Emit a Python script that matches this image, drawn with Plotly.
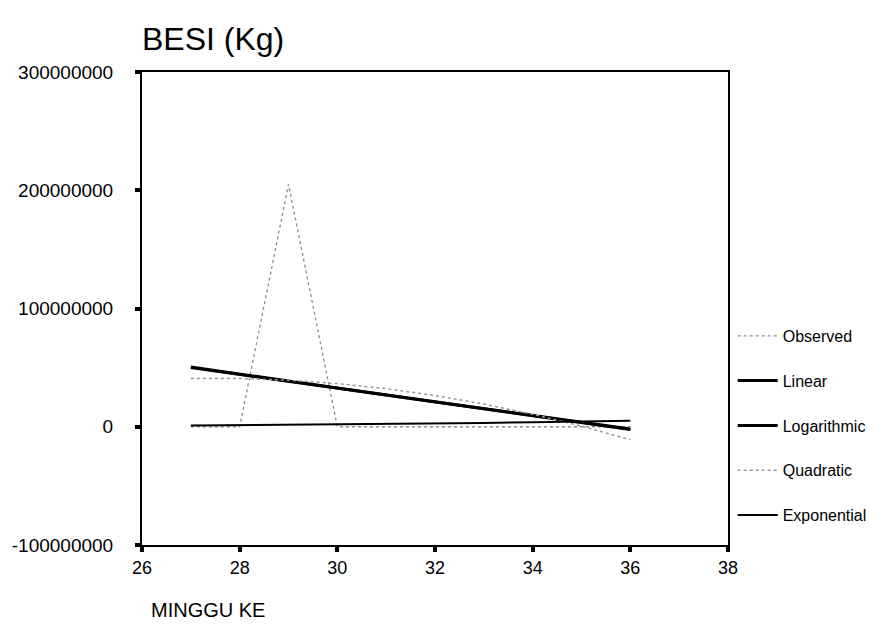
import plotly.graph_objects as go

# ---- data ----
weeks = [27, 28, 29, 30, 31, 32, 33, 34, 35, 36]
observed = [0, 0, 205e6, 0, 0, 0, 0, 0, 0, 0]
linear = [50e6, 44.2e6, 38.4e6, 32.7e6, 26.9e6, 21.1e6, 15.3e6, 9.6e6, 3.8e6, -2e6]
logarithmic = [50.5e6, 44.4e6, 38.5e6, 32.7e6, 26.9e6, 21.1e6, 15.3e6, 9.5e6, 3.7e6, -2.3e6]
quadratic = [40.8e6, 40.8e6, 39.4e6, 36.5e6, 32.2e6, 26.4e6, 19.2e6, 10.6e6, 0.5e6, -11e6]
exponential = [1.0e6, 1.3e6, 1.6e6, 1.9e6, 2.3e6, 2.7e6, 3.2e6, 3.8e6, 4.4e6, 5.0e6]

x_ticks = [26, 28, 30, 32, 34, 36, 38]
y_ticks = [-100000000, 0, 100000000, 200000000, 300000000]

FONT = "Liberation Sans, Arial, sans-serif"

series = [
    ("Observed", observed, dict(color="#8c8c8c", width=1.3, dash="dot")),
    ("Linear", linear, dict(color="black", width=3)),
    ("Logarithmic", logarithmic, dict(color="black", width=3)),
    ("Quadratic", quadratic, dict(color="#9a9a9a", width=1.5, dash="dot")),
    ("Exponential", exponential, dict(color="black", width=2)),
]

fig = go.Figure()
for name, vals, line in series:
    fig.add_trace(go.Scatter(
        x=weeks, y=vals, name=name, mode="lines", line=line,
        legendgroup=name,
    ))

fig.update_layout(
    width=892, height=640,
    paper_bgcolor="white", plot_bgcolor="white",
    margin=dict(l=140, r=164, t=72, b=95),
    font=dict(family=FONT, color="black", size=16),
    title=dict(text="BESI (Kg)", x=0, xref="paper", xanchor="left",
               y=0.94, yref="container", yanchor="middle",
               font=dict(size=32, family=FONT), pad=dict(l=0)),
    showlegend=True,
    legend=dict(x=1.008, xanchor="left", y=0.478, yanchor="top",
                font=dict(size=16, family=FONT), tracegroupgap=21,
                bgcolor="rgba(0,0,0,0)", itemwidth=40),
    annotations=[dict(text="MINGGU KE", xref="paper", yref="paper",
                      x=0.012, y=-0.137, xanchor="left", yanchor="middle",
                      showarrow=False, font=dict(size=20, family=FONT))],
)
fig.update_xaxes(
    range=[26, 38], tickvals=x_ticks, ticktext=[str(v) for v in x_ticks],
    showgrid=False, zeroline=False, showline=True, linecolor="black",
    linewidth=2, mirror=True, ticks="outside", ticklen=5, tickwidth=4,
    tickcolor="black", tickfont=dict(size=18),
)
fig.update_yaxes(
    range=[-100000000, 300000000], tickvals=y_ticks,
    ticktext=[str(v) for v in y_ticks],
    showgrid=False, zeroline=False, showline=True, linecolor="black",
    linewidth=2, mirror=True, ticks="outside", ticklen=5, tickwidth=4,
    tickcolor="black", tickfont=dict(size=19), ticklabelstandoff=18,
)

fig.write_html("out.html")
